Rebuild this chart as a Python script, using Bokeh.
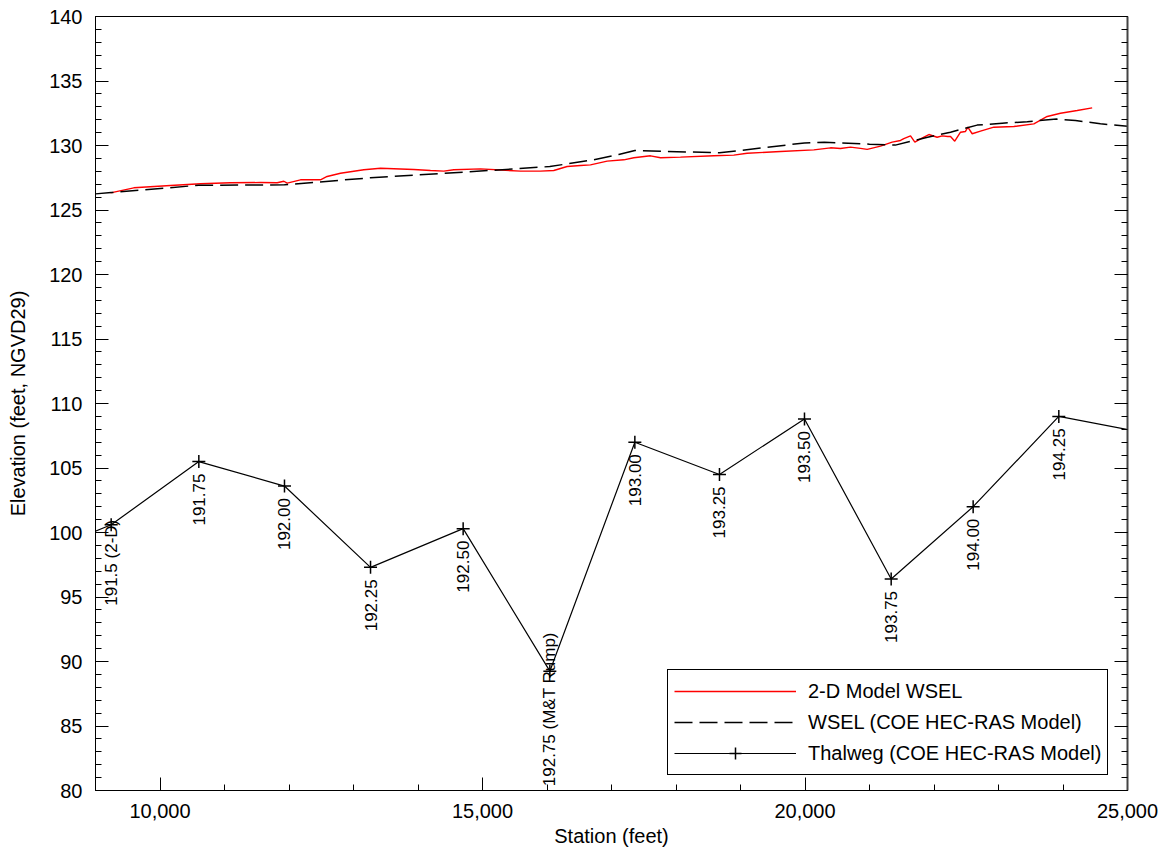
import numpy as np
from bokeh.plotting import figure
from bokeh.models import (Range1d, LinearAxis, SingleIntervalTicker, NumeralTickFormatter,
                          Legend, LegendItem, CustomJSTickFormatter)
from bokeh.core.properties import value
from bokeh.embed import file_html
from bokeh.resources import INLINE

FONT = "Liberation Sans"

# ---- Thalweg (COE HEC-RAS Model) ----
thalweg_station = [8800, 9243, 10602, 11930, 13264, 14700, 16044, 17362, 18674, 19992, 21336, 22607, 23935, 25400]
thalweg_elev = [99.7, 100.6, 105.5, 103.6, 97.3, 100.3, 89.25, 107.0, 104.5, 108.8, 96.4, 102.0, 109.0, 107.6]
thalweg_labels = ["", "191.5 (2-D)", "191.75", "192.00", "192.25", "192.50", "192.75 (M&T Rump)",
                  "193.00", "193.25", "193.50", "193.75", "194.00", "194.25", ""]

# ---- WSEL (COE HEC-RAS Model) ----
hecras_station = [9000, 9243, 10602, 11930, 13264, 14700, 16044, 16726, 17113, 17362, 18674, 19992,
                  20300, 21000, 21400, 21868, 22256, 22669, 23057, 23445, 23900, 24194, 24581, 25000]
hecras_wsel = [126.25, 126.35, 126.92, 126.95, 127.5, 127.93, 128.37, 128.89, 129.30, 129.61, 129.43, 130.2,
               130.26, 130.1, 130.03, 130.6, 131.03, 131.58, 131.73, 131.84, 132.05, 131.94, 131.68, 131.5]

# ---- 2-D Model WSEL ----
model2d_station = [9233, 9594, 10163, 10628, 11093, 11558, 11817, 11920, 11972, 12178,
                   12488, 12591, 12798, 13160, 13419, 13935, 14194, 14400, 14555, 14969,
                   15589, 15899, 16105, 16312, 16519, 16674, 16933, 17191, 17346, 17605,
                   17760, 18070, 18586, 18896, 19103, 19620, 20137, 20395, 20550, 20705,
                   20860, 20964, 21171, 21351, 21481, 21532, 21636, 21703, 21791, 21920,
                   22049, 22127, 22214, 22256, 22322, 22411, 22488, 22524, 22592, 22721,
                   22928, 23238, 23548, 23755, 23961, 24220, 24452]
model2d_wsel = [126.33, 126.72, 126.90, 127.03, 127.11, 127.13, 127.11, 127.23, 127.08, 127.34,
                127.34, 127.6, 127.85, 128.12, 128.24, 128.14, 128.06, 128.01, 128.12, 128.19,
                128.01, 128.01, 128.06, 128.37, 128.45, 128.50, 128.79, 128.89, 129.05, 129.20,
                129.05, 129.10, 129.20, 129.25, 129.40, 129.53, 129.66, 129.82, 129.77, 129.87,
                129.78, 129.70, 129.95, 130.26, 130.39, 130.54, 130.75, 130.26, 130.52, 130.85,
                130.64, 130.75, 130.70, 130.70, 130.33, 131.03, 131.09, 131.42, 130.91, 131.11,
                131.42, 131.47, 131.68, 132.25, 132.50, 132.71, 132.92]

x_title = "Station (feet)"
y_title = "Elevation (feet, NGVD29)"

p = figure(width=1167, height=856, output_backend="svg", toolbar_location=None,
           x_range=Range1d(9000, 25000), y_range=Range1d(80, 140),
           x_axis_type=None, y_axis_type=None,
           min_border_left=95, min_border_right=40, min_border_top=16, min_border_bottom=66)
p.background_fill_color = "white"
p.border_fill_color = "white"
p.outline_line_color = "black"
p.outline_line_alpha = 1
p.outline_line_width = 1
p.xgrid.visible = False
p.ygrid.visible = False


def style_axis(ax):
    ax.axis_line_color = "black"
    ax.axis_line_width = 1
    ax.major_tick_in = 13
    ax.major_tick_out = 0
    ax.minor_tick_in = 6
    ax.minor_tick_out = 0
    ax.major_tick_line_color = "black"
    ax.minor_tick_line_color = "black"
    ax.major_label_text_font = FONT
    ax.major_label_text_font_size = "20px"
    ax.major_label_text_color = "black"
    ax.axis_label_text_font = FONT
    ax.axis_label_text_font_size = "20px"
    ax.axis_label_text_font_style = "normal"
    ax.axis_label_text_color = "black"


xticker = SingleIntervalTicker(interval=5000, num_minor_ticks=5)
yticker = SingleIntervalTicker(interval=5, num_minor_ticks=5)

xaxis = LinearAxis(ticker=xticker, formatter=NumeralTickFormatter(format="0,0"), axis_label=x_title)
style_axis(xaxis)
xaxis.major_label_standoff = 13
xaxis.axis_label_standoff = 4
p.add_layout(xaxis, "below")

yaxis = LinearAxis(ticker=yticker, axis_label=y_title)
style_axis(yaxis)
yaxis.major_label_standoff = 13
yaxis.axis_label_standoff = 17
p.add_layout(yaxis, "left")

raxis = LinearAxis(ticker=SingleIntervalTicker(interval=5, num_minor_ticks=5),
                   formatter=CustomJSTickFormatter(code="return ''"))
style_axis(raxis)
raxis.axis_line_color = "#444444"
raxis.axis_line_width = 2
raxis.major_label_standoff = 0
p.add_layout(raxis, "right")

r_red = p.line(model2d_station, model2d_wsel, line_color="#ff0000", line_width=1.4)
r_dash = p.line(hecras_station, hecras_wsel, line_color="black", line_width=1.5, line_dash="18 7")
r_th = p.line(thalweg_station, thalweg_elev, line_color="black", line_width=1.2)

mx = [s for s, l in zip(thalweg_station, thalweg_labels) if l]
my = [e for e, l in zip(thalweg_elev, thalweg_labels) if l]
ml = [l for l in thalweg_labels if l]
r_mk = p.scatter(mx, my, marker="cross", size=13, line_color="black", line_width=1.5)

p.text(x=mx, y=my, text=ml, angle=np.pi / 2, text_align="center", text_baseline="middle",
       y_offset=38, text_font=value(FONT), text_font_size="17px", text_color="black")

legend = Legend(items=[
    LegendItem(label="2-D Model WSEL", renderers=[r_red]),
    LegendItem(label="WSEL (COE HEC-RAS Model)", renderers=[r_dash]),
    LegendItem(label="Thalweg (COE HEC-RAS Model)", renderers=[r_th, r_mk]),
], location=(572, 15))
legend.label_text_font = FONT
legend.label_text_font_size = "20px"
legend.label_text_color = "black"
legend.glyph_width = 122
legend.glyph_height = 30
legend.label_height = 20
legend.label_standoff = 12
legend.padding = 6
legend.spacing = 1
legend.margin = 0
legend.border_line_color = "black"
legend.border_line_alpha = 1
legend.border_line_width = 1
legend.background_fill_color = "white"
legend.background_fill_alpha = 1
p.add_layout(legend)

open("out.html", "w").write(file_html(p, INLINE))
